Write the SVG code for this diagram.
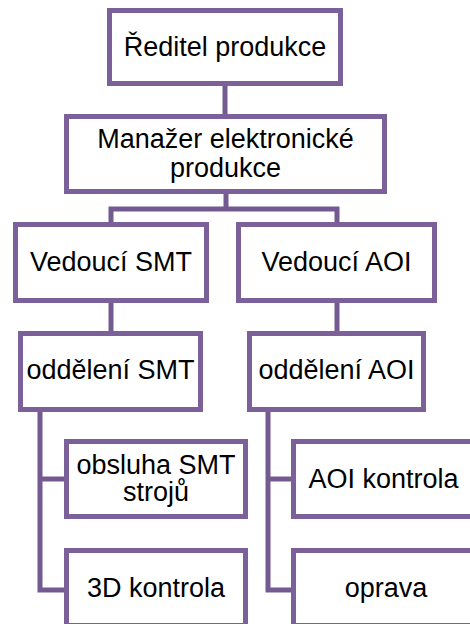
<svg xmlns="http://www.w3.org/2000/svg" width="470" height="624" viewBox="0 0 470 624">
<style>
.box{fill:#ffffff;stroke:#7b609a;stroke-width:5}
.c{fill:none;stroke:#735b91;stroke-width:5}
text{font-family:"Liberation Sans",Arial,sans-serif;font-size:27px;fill:#000;text-anchor:middle}
</style>
<rect width="470" height="624" fill="#ffffff"/>
<g id="connectors">
<path class="c" d="M225 86V114"/>
<path class="c" d="M226 194V209M111 209H337M111 206.5V222M337 206.5V222"/>
<path class="c" d="M111 303V331"/>
<path class="c" d="M337 303V331"/>
<path class="c" d="M40 412V590H64M40 479H64"/>
<path class="c" d="M268 412V590H291M268 479H291"/>
</g>
<g id="n1"><rect class="box" x="109.5" y="10.5" width="231" height="73"/><text x="225" y="56">Ředitel produkce</text></g>
<g id="n2"><rect class="box" x="66.5" y="116.5" width="318" height="75"/><text x="225.5" y="148">Manažer elektronické</text><text x="225.5" y="177">produkce</text></g>
<g id="n3"><rect class="box" x="15.5" y="224.5" width="191" height="76"/><text x="111" y="271">Vedoucí SMT</text></g>
<g id="n4"><rect class="box" x="238.5" y="224.5" width="196" height="76"/><text x="336.5" y="271">Vedoucí AOI</text></g>
<g id="n5"><rect class="box" x="20.5" y="333.5" width="180" height="76"/><text x="110.5" y="379">oddělení SMT</text></g>
<g id="n6"><rect class="box" x="249.5" y="333.5" width="174" height="76"/><text x="336.5" y="379">oddělení AOI</text></g>
<g id="n7"><rect class="box" x="66.5" y="441.5" width="179" height="75"/><text x="156" y="474">obsluha SMT</text><text x="156" y="501">strojů</text></g>
<g id="n8"><rect class="box" x="66.5" y="550.5" width="179" height="75"/><text x="156" y="597">3D kontrola</text></g>
<g id="n9"><rect class="box" x="293.5" y="441.5" width="180" height="75"/><text x="383.5" y="488">AOI kontrola</text></g>
<g id="n10"><rect class="box" x="293.5" y="550.5" width="180" height="75"/><text x="386" y="597">oprava</text></g>
</svg>
